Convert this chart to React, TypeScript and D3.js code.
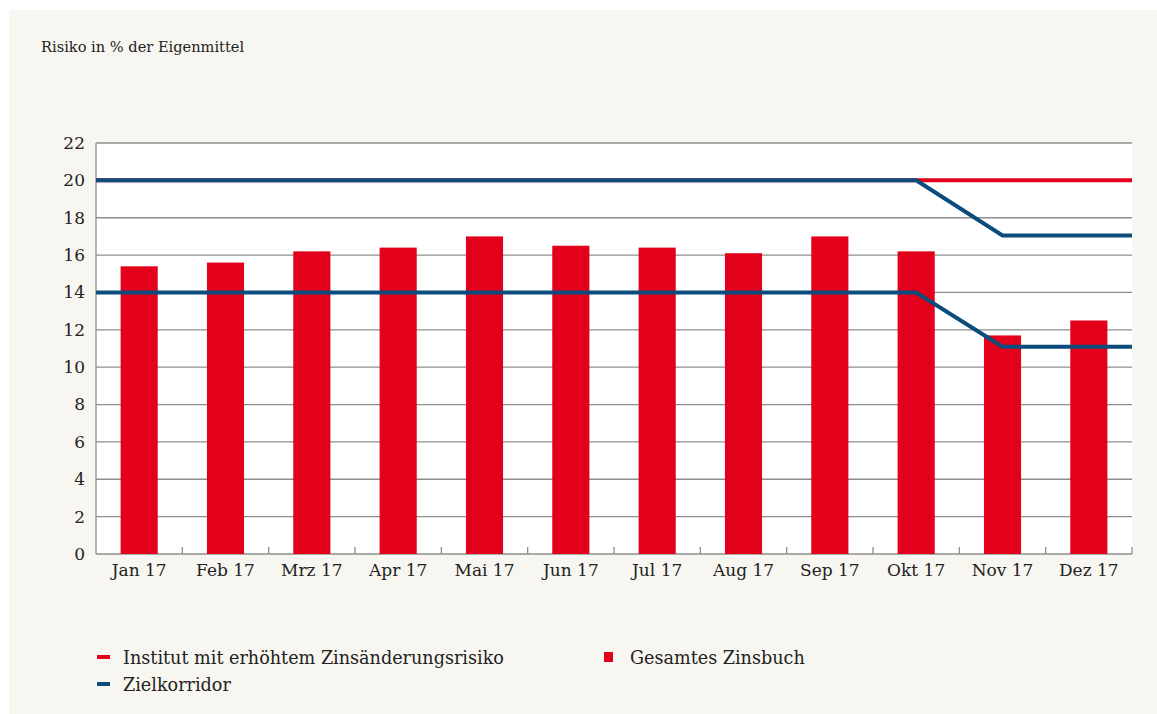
import React from "react";
import * as d3 from "d3";

const months = ["Jan 17", "Feb 17", "Mrz 17", "Apr 17", "Mai 17", "Jun 17", "Jul 17", "Aug 17", "Sep 17", "Okt 17", "Nov 17", "Dez 17"];
const gesamtesZinsbuch = [15.4, 15.6, 16.2, 16.4, 17.0, 16.5, 16.4, 16.1, 17.0, 16.2, 11.7, 12.5];
const zielOben = [20, 20, 20, 20, 20, 20, 20, 20, 20, 20, 17.05, 17.05];
const zielUnten = [14, 14, 14, 14, 14, 14, 14, 14, 14, 14, 11.1, 11.1];
const institut = [20, 20, 20, 20, 20, 20, 20, 20, 20, 20, 20, 20];
const yTicks = [0, 2, 4, 6, 8, 10, 12, 14, 16, 18, 20, 22];

const RED = "#e2001a";
const BLUE = "#0b4c7c";
const GRID = "#8e8e8e";
const TEXT = "#222";
const FONT = "'DejaVu Serif', serif";

function App() {
  const left = 96, right = 1132, top = 143, bottom = 554;
  const width = right - left;
  const height = bottom - top;

  const x = d3.scaleBand<string>().domain(months).range([0, width]).paddingInner(0.57).paddingOuter(0.285);
  const xb = d3.scaleBand<string>().domain(months).range([0, width]);
  const y = d3.scaleLinear().domain([0, 22]).range([height, 0]);

  const linePath = (vals: number[]) => {
    const pts: [number, number][] = [[0, vals[0]]];
    months.forEach((m, i) => pts.push([(xb(m) as number) + xb.bandwidth() / 2, vals[i]]));
    pts.push([width, vals[vals.length - 1]]);
    return d3.line<[number, number]>().x((d) => d[0]).y((d) => y(d[1]))(pts) as string;
  };

  return (
    <>
      <style>{`body{margin:0;overflow:hidden}`}</style>
      <svg width={1157} height={714} style={{ display: "block", background: "#fff" }}>
        <rect x={9} y={10} width={1148} height={704} fill="#f8f6f0" />
        <text x={41} y={52} fontFamily={FONT} fontSize={14.6} fill={TEXT}>Risiko in % der Eigenmittel</text>

        <g transform={`translate(${left},${top})`}>
          <rect x={0} y={0} width={width} height={height} fill="#fff" />
          {yTicks.map((t) => (
            <g key={t}>
              <line x1={0} x2={width} y1={y(t)} y2={y(t)} stroke={GRID} strokeWidth={1.3} />
              <text x={-11} y={y(t)} dy="0.35em" textAnchor="end" fontFamily={FONT} fontSize={17} fill={TEXT}>{t}</text>
            </g>
          ))}
          <line x1={0} x2={0} y1={0} y2={height} stroke={GRID} strokeWidth={1.3} />
          {months.map((m) => (
            <g key={m}>
              <line x1={(xb(m) as number) + xb.bandwidth()} x2={(xb(m) as number) + xb.bandwidth()} y1={height - 7} y2={height} stroke={GRID} strokeWidth={1.3} />
              <text x={(xb(m) as number) + xb.bandwidth() / 2} y={height + 22} textAnchor="middle" fontFamily={FONT} fontSize={17} fill={TEXT}>{m}</text>
            </g>
          ))}
          {months.map((m, i) => (
            <rect key={m} x={x(m)} y={y(gesamtesZinsbuch[i])} width={x.bandwidth()} height={height - y(gesamtesZinsbuch[i])} fill={RED} />
          ))}
          <path d={linePath(institut)} fill="none" stroke={RED} strokeWidth={4} />
          <path d={linePath(zielOben)} fill="none" stroke={BLUE} strokeWidth={4} />
          <path d={linePath(zielUnten)} fill="none" stroke={BLUE} strokeWidth={4} />
        </g>

        <g fontFamily={FONT} fontSize={17.6} fill={TEXT}>
          <rect x={97} y={655} width={13} height={4} fill={RED} />
          <text x={123} y={664}>Institut mit erhöhtem Zinsänderungsrisiko</text>
          <rect x={97} y={682} width={13} height={4} fill={BLUE} />
          <text x={123} y={691}>Zielkorridor</text>
          <rect x={604} y={652} width={9} height={10} fill={RED} />
          <text x={630} y={664}>Gesamtes Zinsbuch</text>
        </g>
      </svg>
    </>
  );
}

export default App;
